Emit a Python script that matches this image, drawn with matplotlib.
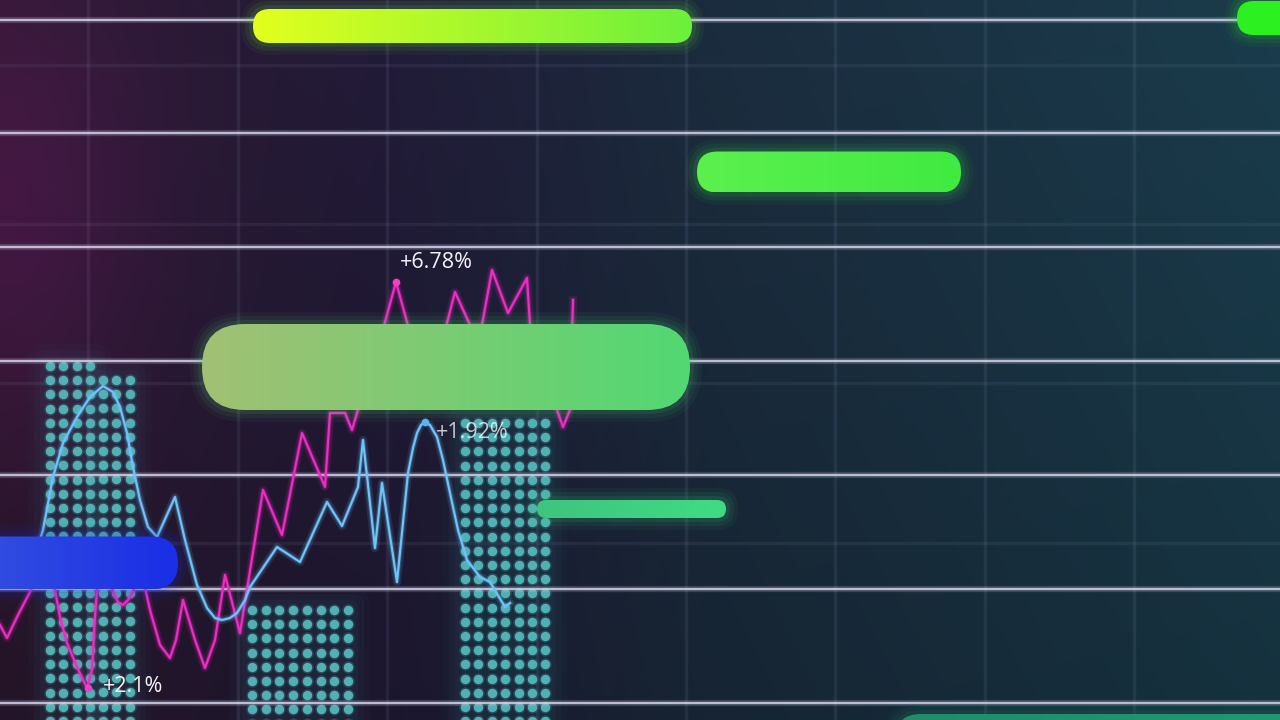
import numpy as np
import matplotlib.pyplot as plt
from matplotlib.patches import FancyBboxPatch, Rectangle

# canvas units are pixels of the 1280x720 picture
W, H = 1280, 720

# grid
bright_rows = [20, 133, 247, 361, 475, 589, 703]
faint_rows = [65, 224, 383, 543]
grid_cols = [88, 238, 387, 537, 686, 835, 985, 1134]

# rounded bars: start, end, centre, thickness, left colour, right colour
bar_start = [253, 1237, 697, 202, -40, 537, 895]
bar_end = [692, 1310, 961, 690, 178, 726, 1310]
bar_mid = [26, 18, 172, 367, 563, 509, 740]
bar_thick = [34, 34, 41, 86, 53, 18, 52]
bar_left = ['#e2ff1e', '#2cf020', '#5cf04e', '#a2c074', '#3552df', '#3ec47e', '#1f8c6a']
bar_right = ['#6cf03c', '#2cf020', '#40ea40', '#52d872', '#1a2ee6', '#40dc84', '#1f9a70']

# dotted columns: first x, columns, top y, column step
dot_x0 = [50, 103, 252, 465]
dot_cols = [4, 3, 8, 7]
dot_top = [366, 380, 610, 423]
dot_step = [13.4, 13.4, 13.7, 13.4]

# magenta series
pink_x = [0, 7, 18, 30, 42, 55, 60, 67, 77, 87, 92, 95, 97, 104, 113, 118, 123,
          128, 133, 140, 150, 160, 170, 176, 183, 195, 205, 215, 225, 240, 263,
          282, 302, 325, 330, 345, 352, 357, 385, 396, 407, 425, 447, 455, 470,
          482, 492, 508, 527, 530, 545, 557, 563, 570, 573]
pink_y = [625, 638, 615, 592, 565, 590, 617, 643, 667, 688, 670, 617, 590, 555,
          592, 602, 605, 600, 592, 565, 610, 645, 658, 640, 600, 640, 668, 640,
          575, 633, 490, 535, 433, 487, 413, 413, 430, 413, 322, 282, 322, 390,
          323, 292, 325, 325, 270, 313, 278, 325, 380, 410, 427, 410, 300]

# blue series
cyan_x = [28, 36, 43, 53, 63, 77, 90, 103, 113, 120, 127, 133, 140, 148, 157,
          175, 185, 197, 207, 215, 222, 230, 237, 245, 250, 277, 300, 327, 342,
          358, 363, 375, 382, 397, 408, 413, 417, 421, 425, 430, 437, 443, 450,
          458, 467, 480, 490, 505, 510]
cyan_y = [575, 552, 530, 477, 443, 417, 397, 386, 392, 407, 433, 467, 500, 527,
          537, 497, 540, 585, 608, 618, 620, 618, 613, 600, 587, 547, 562, 502,
          526, 487, 440, 548, 483, 582, 473, 448, 433, 425, 422, 425, 437, 460,
          493, 530, 560, 577, 582, 607, 603]

labels = ['+6.78%', '+1.92%', '+2.1%']
label_x = [400, 436, 103]
label_y = [262, 432, 687]
label_alpha = [0.95, 0.75, 0.95]
label_marks = [(396, 282, '#f040c8'), (425, 422, '#5ab4f0'), (88, 688, '#f040c8')]


def hex_rgb(c):
    c = c.lstrip('#')
    return np.array([int(c[i:i + 2], 16) / 255 for i in (0, 2, 4)])


fig = plt.figure(figsize=(12.8, 7.2), dpi=100)
ax = fig.add_axes([0, 0, 1, 1])
ax.set_xlim(0, W)
ax.set_ylim(H, 0)
ax.axis('off')

# background gradient, purple on the left going to dark teal on the right
gx = np.linspace(0, 1, 256)[None, :]
gy = np.linspace(0, 1, 144)[:, None]
stops_t = [0.0, 0.3, 0.55, 1.0]
stops_c = [hex_rgb('#2c1930'), hex_rgb('#221b38'), hex_rgb('#1b2c3e'), hex_rgb('#1a3c4c')]
bg = np.zeros((144, 256, 3))
for k in range(3):
    bg[..., k] = np.interp(gx, stops_t, [c[k] for c in stops_c]) * np.ones_like(gy)
bg *= (1.0 - 0.18 * gy)[..., None]
glow = np.exp(-((gx / 0.12) ** 2) - ((gy - 0.28) / 0.35) ** 2)
bg += glow[..., None] * np.array([0.10, 0.0, 0.08])
ax.imshow(np.clip(bg, 0, 1), extent=(0, W, H, 0), aspect='auto', zorder=0,
          interpolation='bicubic')

for x in grid_cols:
    ax.axvline(x, color='#a0a8d0', alpha=0.10, lw=2.5, zorder=1)
for y in faint_rows:
    ax.axhline(y, color='#a0a8d0', alpha=0.09, lw=2.5, zorder=1)

# dotted columns with a soft teal halo
for x0, nc, top, st in zip(dot_x0, dot_cols, dot_top, dot_step):
    xs = x0 + st * np.arange(nc)
    ys = np.arange(top, H + 10, 14.2)
    gxx, gyy = np.meshgrid(xs, ys)
    for pad, a in [(16, 0.025), (10, 0.035), (4, 0.045)]:
        ax.add_patch(FancyBboxPatch((xs[0] - 6 - pad, top - 6 - pad), xs[-1] - xs[0] + 12 + 2 * pad,
                                    H - top + 30, boxstyle=f'round,pad=0,rounding_size={pad + 2}',
                                    color='#40b8c0', alpha=a, lw=0, zorder=2))
    ax.scatter(gxx.ravel(), gyy.ravel(), s=80, color='#50c0c0', alpha=0.2, lw=0, zorder=2)
    ax.scatter(gxx.ravel(), gyy.ravel(), s=46, color='#58c4c4', alpha=0.85, lw=0, zorder=2)

for y in bright_rows:
    ax.axhline(y, color='#c8c8e0', alpha=0.2, lw=4.5, zorder=3)
    ax.axhline(y, color='#d4d4ea', alpha=0.85, lw=1.7, zorder=3)

# series with a glow underneath
for xs, ys, col in [(pink_x, pink_y, '#ee2cc4'), (cyan_x, cyan_y, '#6cc4fa')]:
    ax.plot(xs, ys, color=col, lw=6, alpha=0.12, zorder=4, solid_joinstyle='round')
    ax.plot(xs, ys, color=col, lw=3.2, alpha=0.25, zorder=4, solid_joinstyle='round')
    ax.plot(xs, ys, color=col, lw=1.6, zorder=4, solid_joinstyle='round')

for mx, my, mc in label_marks:
    ax.scatter([mx], [my], s=30, color=mc, zorder=5, lw=0)

# bars with glow and left-to-right gradient
for x0, x1, yc, h, c0, c1 in zip(bar_start, bar_end, bar_mid, bar_thick, bar_left, bar_right):
    y0 = yc - h / 2
    for pad, a in [(12, 0.05), (8, 0.07), (4, 0.10)]:
        ax.add_patch(FancyBboxPatch((x0 - pad, y0 - pad), x1 - x0 + 2 * pad, h + 2 * pad,
                                    boxstyle=f'round,pad=0,rounding_size={h / 2 + pad}',
                                    color=c1, alpha=a, lw=0, zorder=6))
    body = FancyBboxPatch((x0, y0), x1 - x0, h,
                          boxstyle=f'round,pad=0,rounding_size={h / 2}',
                          facecolor='none', lw=0, zorder=7)
    ax.add_patch(body)
    t = np.linspace(0, 1, 200)[None, :, None]
    grad = hex_rgb(c0)[None, None, :] * (1 - t) + hex_rgb(c1)[None, None, :] * t
    im = ax.imshow(np.repeat(grad, 2, axis=0), extent=(x0, x1, y0 + h, y0),
                   aspect='auto', zorder=7, interpolation='bilinear')
    im.set_clip_path(body)

ax.set_xlim(0, W)
ax.set_ylim(H, 0)

for txt, tx, ty, a in zip(labels, label_x, label_y, label_alpha):
    ax.text(tx, ty, txt, color='white', alpha=a, fontsize=15.5, va='center', ha='left',
            family=['Open Sans', 'DejaVu Sans'], zorder=8)

fig.savefig('out.png', dpi=100)
